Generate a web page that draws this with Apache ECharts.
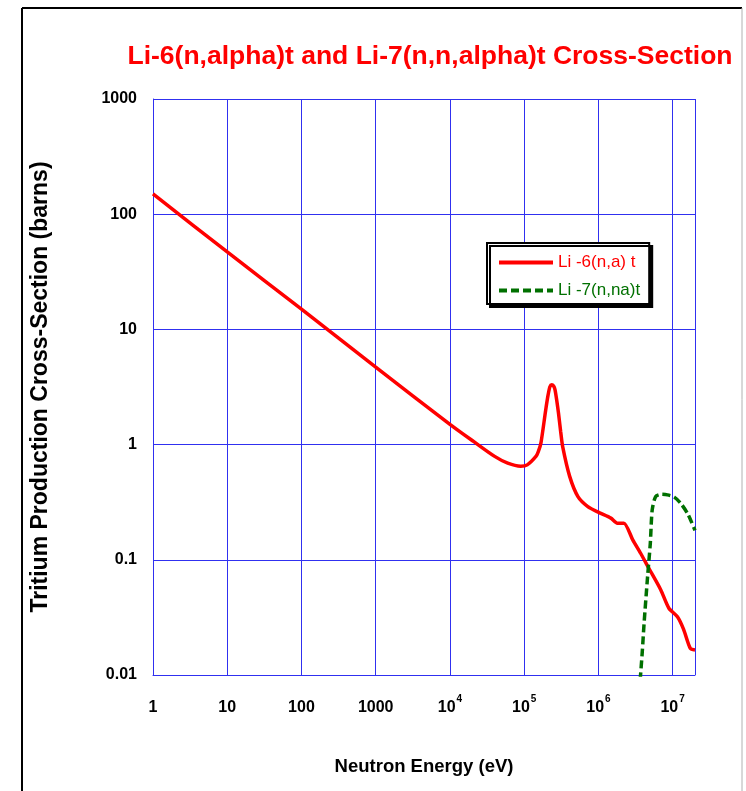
<!DOCTYPE html>
<html>
<head>
<meta charset="utf-8">
<script src="https://cdn.jsdelivr.net/npm/echarts@6/dist/echarts.min.js"></script>
<style>
html,body{margin:0;padding:0;background:#fff;}
#chart{width:746px;height:791px;}
</style>
</head>
<body>
<div id="chart"></div>
<script>
// Li-6(n,alpha)t : neutron energy (eV) and cross-section (barns)
var li6Energy = [1, 10, 100, 1000, 1e4, 2.1e4, 4e4, 6e4, 9e4, 1.1e5, 1.44e5, 1.55e5, 1.68e5, 1.95e5, 2.1e5, 2.22e5, 2.35e5, 2.49e5, 2.6e5, 2.75e5, 2.9e5, 3.1e5, 3.3e5, 4.1e5, 5.3e5, 7.2e5, 1.02e6, 1.47e6, 1.8e6, 2.2e6, 2.9e6, 3.7e6, 4.8e6, 6.9e6, 8.9e6, 1.16e7, 1.4e7, 1.73e7, 2e7];
var li6Sigma  = [150, 47, 15, 4.7, 1.5, 1.06, 0.79, 0.69, 0.65, 0.667, 0.79, 0.87, 1.03, 2.0, 2.7, 3.18, 3.3, 3.23, 3.0, 2.4, 1.87, 1.3, 0.96, 0.53, 0.354, 0.29, 0.257, 0.23, 0.208, 0.208, 0.149, 0.114, 0.084, 0.055, 0.038, 0.032, 0.025, 0.017, 0.0165];
// Li-7(n,n alpha)t
var li7Energy = [3.65e6, 3.9e6, 4.12e6, 4.6e6, 5e6, 5.3e6, 5.9e6, 7e6, 8.5e6, 1.05e7, 1.28e7, 1.6e7, 2e7];
var li7Sigma  = [0.009, 0.016, 0.028, 0.072, 0.139, 0.27, 0.354, 0.37, 0.366, 0.35, 0.31, 0.25, 0.18];
// axis tick labels
var yTickLabels = {"-2": "0.01", "-1": "0.1", "0": "1", "1": "10", "2": "100", "3": "1000"};
var xPlainLabels = {"0": "1", "1": "10", "2": "100", "3": "1000"};

var seriesNames = ["Li -6(n,a) t", "Li -7(n,na)t"];
var li6Data = li6Energy.map(function (e, i) { return [e, li6Sigma[i]]; });
var li7Data = li7Energy.map(function (e, i) { return [e, li7Sigma[i]]; });

var FONT = "'Liberation Sans', Arial, sans-serif";
var GRID = '#3030f0';

var chart = echarts.init(document.getElementById('chart'));
chart.setOption({
  backgroundColor: '#ffffff',
  animation: false,
  title: {
    text: 'Li-6(n,alpha)t and Li-7(n,n,alpha)t Cross-Section',
    left: 425, top: 38, textAlign: 'center',
    textStyle: { color: '#ff0000', fontFamily: FONT, fontWeight: 'bold', fontSize: 26.5 }
  },
  graphic: [
    { type: 'line', shape: { x1: 22, y1: 8, x2: 22, y2: 791 }, style: { stroke: '#000', lineWidth: 2 } },
    { type: 'line', shape: { x1: 22, y1: 8, x2: 742, y2: 8 }, style: { stroke: '#000', lineWidth: 2 } },
    { type: 'line', shape: { x1: 742, y1: 8, x2: 742, y2: 791 }, style: { stroke: '#b0b0b0', lineWidth: 1 } }
  ],
  legend: {
    orient: 'vertical',
    left: 487, top: 243,
    padding: [11, 9, 5, 10],
    itemGap: 11,
    itemWidth: 54, itemHeight: 17,
    backgroundColor: '#ffffff',
    borderColor: '#000', borderWidth: 2,
    shadowColor: '#000', shadowBlur: 0, shadowOffsetX: 3, shadowOffsetY: 3,
    itemStyle: { opacity: 0 },
    lineStyle: { width: 4 },
    textStyle: { fontFamily: FONT, fontSize: 17 },
    data: [
      { name: seriesNames[0], textStyle: { color: '#ff0000' } },
      { name: seriesNames[1], textStyle: { color: '#007000' } }
    ]
  },
  grid: { left: 153, right: 51, top: 99, bottom: 116, containLabel: false },
  xAxis: {
    type: 'log', logBase: 10, min: 1, max: 2e7,
    name: 'Neutron Energy (eV)', nameLocation: 'middle', nameGap: 82,
    nameTextStyle: { fontFamily: FONT, fontWeight: 'bold', fontSize: 18.5, color: '#000' },
    axisLine: { show: true, lineStyle: { color: GRID, width: 1 } },
    axisTick: { show: false },
    splitLine: { show: true, lineStyle: { color: GRID, width: 1 } },
    axisLabel: {
      margin: 19, color: '#000',
      fontFamily: FONT, fontWeight: 'bold', fontSize: 16,
      formatter: function (v) {
        var p = Math.round(Math.log10(v));
        if (Math.abs(Math.log10(v) - p) > 1e-6) return '';
        if (xPlainLabels[p] !== undefined) return '{b|' + xPlainLabels[p] + '}';
        return '{b|10}{s|' + p + '}';
      },
      rich: {
        b: { fontFamily: FONT, fontWeight: 'bold', fontSize: 16, color: '#000', verticalAlign: 'bottom', lineHeight: 22 },
        s: { fontFamily: FONT, fontWeight: 'bold', fontSize: 10, color: '#000', verticalAlign: 'top', lineHeight: 22, padding: [0, 0, 0, 1] }
      }
    }
  },
  yAxis: {
    type: 'log', logBase: 10, min: 0.01, max: 1000,
    name: 'Tritium Production Cross-Section (barns)', nameLocation: 'middle', nameGap: 101,
    nameTextStyle: { fontFamily: FONT, fontWeight: 'bold', fontSize: 23, color: '#000' },
    axisLine: { show: true, lineStyle: { color: GRID, width: 1 } },
    axisTick: { show: false },
    splitLine: { show: true, lineStyle: { color: GRID, width: 1 } },
    axisLabel: {
      margin: 16, color: '#000',
      fontFamily: FONT, fontWeight: 'bold', fontSize: 16,
      formatter: function (v) {
        var p = Math.round(Math.log10(v));
        return yTickLabels[p] !== undefined ? yTickLabels[p] : '';
      }
    }
  },
  series: [
    {
      name: seriesNames[0], type: 'line', data: li6Data,
      showSymbol: false, symbol: 'none', smooth: 0.25, clip: true,
      lineStyle: { color: '#ff0000', width: 3.5 }, itemStyle: { color: '#ff0000' }
    },
    {
      name: seriesNames[1], type: 'line', data: li7Data,
      showSymbol: false, symbol: 'none', smooth: 0.25, clip: true,
      lineStyle: { color: '#007000', width: 3.5, type: [8, 4] }, itemStyle: { color: '#007000' }
    }
  ]
});
</script>
</body>
</html>
